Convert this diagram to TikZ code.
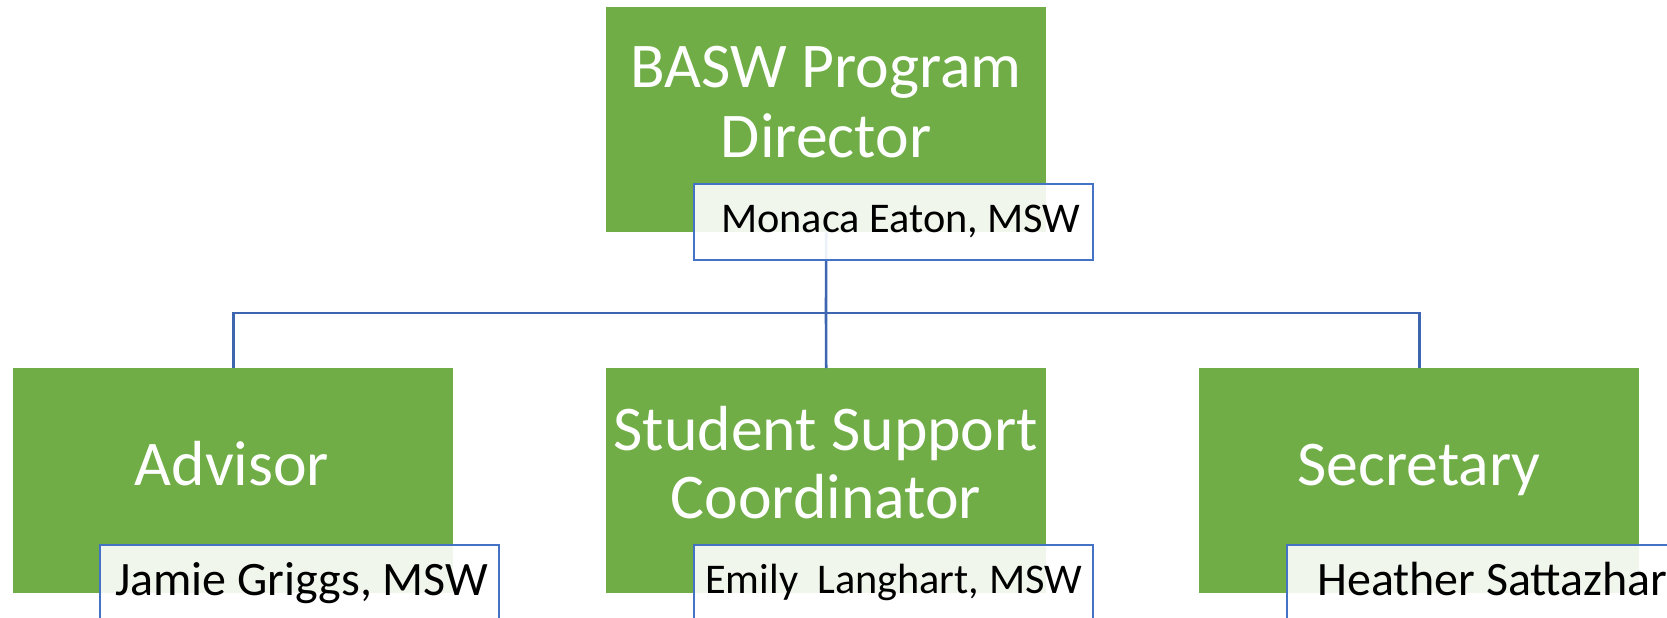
\documentclass[tikz,border=0pt]{standalone}
\usepackage{fontspec}
\setmainfont{Carlito}
\definecolor{boxgreen}{HTML}{70AD47}
\definecolor{boxblue}{HTML}{4472C4}
\definecolor{connblue}{HTML}{3E66B0}
\tikzset{
  greenbox/.style={draw=none, fill=boxgreen, rectangle, inner sep=0pt, minimum width=440pt, minimum height=225pt, anchor=north west},
  namebox/.style={draw=boxblue, line width=2pt, fill=white, fill opacity=0.9, text opacity=1, rectangle, inner sep=0pt, minimum width=399pt, minimum height=76pt, anchor=north west},
  conn/.style={draw=connblue, line width=2.6pt},
  title/.style={text=white, anchor=base, inner sep=0pt, font=\fontsize{63.7pt}{69pt}\selectfont},
  nametext/.style={text=black, anchor=base west, inner sep=0pt},
}
\begin{document}
\begin{tikzpicture}[x=1pt,y=-1pt]
\clip (0,0) rectangle (1667,618);
\fill[white] (0,0) rectangle (1667,618);
% green boxes
\node[greenbox] (top) at (606,7) {};
\node[greenbox] (adv) at (13,368) {};
\node[greenbox] (ssc) at (606,368) {};
\node[greenbox] (sec) at (1199,368) {};
% connectors
\coordinate (j) at (826,313);
\draw[conn] (top.south) -- (j);
\draw[conn] (j) -| (adv.north);
\draw[conn] (j) -- (ssc.north);
\draw[conn] (j) -| (sec.north);
% titles
\node[title] (t1) at (826,88) {BASW Program};
\node[title] (t2) at (826,157) {Director};
\node[title] (t3) at (232,485) {Advisor};
\node[title] (t4) at (826,450) {Student Support};
\node[title] (t5) at (826,518) {Coordinator};
\node[title] (t6) at (1419,485) {Secretary};
% name boxes
\node[namebox] (n1) at (693,183) {};
\node[namebox] (n2) at (99,544) {};
\node[namebox] (n3) at (693,544) {};
\node[namebox] (n4) at (1286,544) {};
\node[nametext, font=\fontsize{42.3pt}{50pt}\selectfont] (m1) at (721,232) {Monaca Eaton, MSW};
\node[nametext, font=\fontsize{48pt}{56pt}\selectfont] (m2) at (115,595) {Jamie Griggs, MSW};
\node[nametext, font=\fontsize{42.3pt}{50pt}\selectfont] (m3) at (705,593) {Emily\ \ Langhart, MSW};
\node[nametext, font=\fontsize{48pt}{56pt}\selectfont] (m4) at (1317,595) {Heather Sattazhar};
\end{tikzpicture}
\end{document}
